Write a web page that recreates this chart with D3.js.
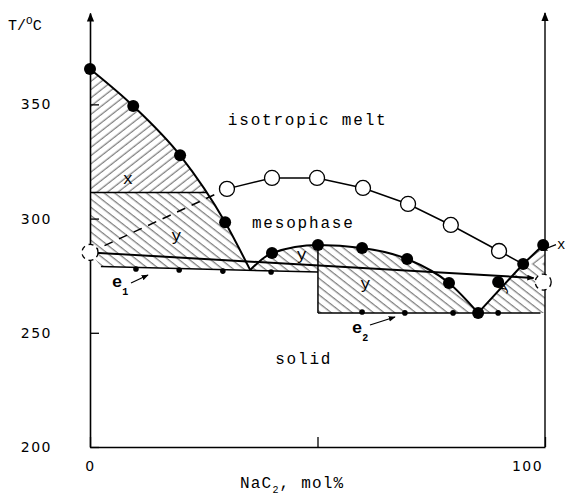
<!DOCTYPE html>
<html><head><meta charset="utf-8">
<script src="https://cdn.jsdelivr.net/npm/d3@7"></script>
<style>body{margin:0;background:#fff} svg{display:block}</style>
</head><body>
<svg id="c" width="568" height="496"></svg>
<script>
// ---- data (composition mol% NaC2, temperature °C) ----
const liquidusLeft   = [[0,365.5],[9.5,349.3],[19.8,327.7],[29.7,298.4],[35.2,277.5]];
const liquidusMiddle = [[35.2,277.5],[40,284.9],[50.1,288.4],[59.8,287.1],[69.7,282.3],[78.9,271.8],[85.3,258.7]];
const liquidusRight  = [[85.3,258.7],[95.2,280.1],[99.6,288.4]];
const extraPoints    = [[89.7,272.2]];
const clearing       = [[30.1,313],[40,317.8],[49.9,317.8],[60,313.4],[69.9,306.4],[79.3,297.2],[89.9,285.8],[95.2,280.1]];
const pureTransitions = [[0,285.2],[99.6,272.2]];
const transitionLine = [[0,285.2],[97.5,274]];
const eutectic1      = [[2.4,279],[50.1,276.6]];
const eutectic1Points = [[10.1,277.9],[19.6,277.5],[29.2,277],[39.8,276.6]];
const eutectic2      = [[50.1,258.7],[99,258.7]];
const eutectic2Points = [[59.8,259.1],[69.2,258.7],[79.8,258.7],[89.7,258.7]];
const boundaryT = 311.4;
const regionE = [[85.3,258.7],[95.2,280.1],[100,280.1],[100,258.7]];
const regionF = [[95.2,280.1],[99.6,288.4],[100,288.4],[100,280.1]];
const yTicks = [200,250,300,350];
const xTicks = [0,50,100];
const regionLabels = [
  {t:"x", p:[8.3,315]}, {t:"y", p:[19,290]}, {t:"y", p:[46.5,282]}, {t:"y", p:[60.5,269]}
];
const phaseLabels = [
  {t:"isotropic melt", p:[30.3,341]}, {t:"mesophase", p:[35.6,296]}, {t:"solid", p:[40.7,236.5]}
];

const svg = d3.select("#c");
const x = d3.scaleLinear().domain([0,100]).range([90,545]);
const y = d3.scaleLinear().domain([200,390]).range([447,13]);
const MONO = "'Liberation Mono','DejaVu Sans Mono',monospace";

const defs = svg.append("defs");
function hatch(id, ang){
  const p = defs.append("pattern").attr("id",id).attr("width",6.5).attr("height",6.5)
    .attr("patternUnits","userSpaceOnUse").attr("patternTransform",`rotate(${ang})`);
  p.append("line").attr("x1",3).attr("y1",0).attr("x2",3).attr("y2",6.5)
    .attr("stroke","#333").attr("stroke-width",0.8);
}
hatch("fw", 52); hatch("bw", -52);
const m = defs.append("marker").attr("id","arr").attr("viewBox","0 0 10 10").attr("refX",9).attr("refY",5)
  .attr("markerWidth",7).attr("markerHeight",7).attr("markerUnits","userSpaceOnUse").attr("orient","auto");
m.append("path").attr("d","M0,1L10,5L0,9Z").attr("fill","#000");
const m2 = defs.append("marker").attr("id","arrBig").attr("viewBox","0 0 10 10").attr("refX",9).attr("refY",5)
  .attr("markerWidth",9).attr("markerHeight",10).attr("markerUnits","userSpaceOnUse").attr("orient","auto");
m2.append("path").attr("d","M0,1L10,5L0,9Z").attr("fill","#000");
defs.append("clipPath").attr("id","above").append("rect")
  .attr("x",x(0)).attr("y",0).attr("width",x(100)-x(0)).attr("height",y(boundaryT));
defs.append("clipPath").attr("id","below").append("rect")
  .attr("x",x(0)).attr("y",y(boundaryT)).attr("width",x(100)-x(0)).attr("height",y(200)-y(boundaryT));

const curve = d3.line().x(d=>x(d[0])).y(d=>y(d[1])).curve(d3.curveMonotoneX);
const lin = d3.line().x(d=>x(d[0])).y(d=>y(d[1]));
const P = (a,b)=>`L${x(a)},${y(b)}`;
const e1At = xv => eutectic1[0][1] + (eutectic1[1][1]-eutectic1[0][1])*(xv-eutectic1[0][0])/(eutectic1[1][0]-eutectic1[0][0]);
const minX = liquidusLeft[liquidusLeft.length-1][0];

// ---- hatched regions ----
svg.append("path").attr("d", curve(liquidusLeft)+P(0,liquidusLeft[4][1])+"Z")
  .attr("fill","url(#fw)").attr("clip-path","url(#above)");
svg.append("path").attr("d", curve(liquidusLeft)+P(minX,e1At(minX))+P(eutectic1[0][0],eutectic1[0][1])+P(pureTransitions[0][0],pureTransitions[0][1])+"Z")
  .attr("fill","url(#bw)").attr("clip-path","url(#below)");
svg.append("path").attr("d", curve(liquidusMiddle)+P(eutectic2[0][0],eutectic2[0][1])+P(eutectic1[1][0],eutectic1[1][1])+P(minX,e1At(minX))+"Z")
  .attr("fill","url(#bw)");
svg.append("path").attr("d", lin(regionE)+"Z").attr("fill","url(#bw)");
svg.append("path").attr("d", lin(regionF)+"Z").attr("fill","url(#fw)");

// ---- axes ----
const ax = svg.append("g").attr("transform",`translate(${x(0)},0)`)
  .call(d3.axisLeft(y).tickValues(yTicks).tickSize(-9).tickSizeOuter(0).tickPadding(38).tickFormat(d3.format("d")));
ax.select(".domain").attr("stroke-width",1.6).attr("marker-end","url(#arrBig)");
ax.selectAll(".tick line").attr("stroke-width",1.3);
ax.selectAll("text").attr("font-family","'DejaVu Sans',sans-serif").attr("font-size",14)
  .attr("letter-spacing",1.5).attr("fill","#000");
const bx = svg.append("g").attr("transform",`translate(0,${y(200)})`)
  .call(d3.axisBottom(x).tickValues(xTicks).tickSize(-10).tickSizeOuter(0).tickPadding(14).tickFormat(d=>d===50?"":d));
bx.select(".domain").attr("stroke-width",1.4);
bx.selectAll(".tick line").attr("stroke-width",1.3);
bx.selectAll("text").attr("font-family","'DejaVu Sans',sans-serif").attr("font-size",14)
  .attr("letter-spacing",1.5).attr("fill","#000");
bx.selectAll(".tick").filter(d=>d===100).select("text").attr("dx",-18);
svg.append("line").attr("x1",x(100)).attr("x2",x(100)).attr("y1",y(200)).attr("y2",y(390))
  .attr("stroke","#000").attr("stroke-width",1.4).attr("marker-end","url(#arrBig)");

// ---- lines ----
const leftPath = svg.append("path").attr("d",curve(liquidusLeft)).attr("fill","none").attr("stroke","#000").attr("stroke-width",2);
const node = leftPath.node(), L = node.getTotalLength(); let xi = x(0);
for(let s=0;s<=L;s+=0.5){const pt=node.getPointAtLength(s); if(pt.y>=y(boundaryT)){xi=pt.x;break;}}
svg.append("line").attr("x1",x(0)).attr("x2",xi).attr("y1",y(boundaryT)).attr("y2",y(boundaryT))
  .attr("stroke","#000").attr("stroke-width",1.4);
svg.append("path").attr("d",curve(liquidusMiddle)).attr("fill","none").attr("stroke","#000").attr("stroke-width",2);
svg.append("path").attr("d",lin(liquidusRight)).attr("fill","none").attr("stroke","#000").attr("stroke-width",2);
svg.append("path").attr("d",lin(clearing)).attr("fill","none").attr("stroke","#000").attr("stroke-width",1.5);
svg.append("path").attr("d",lin([pureTransitions[0],clearing[0]])).attr("fill","none").attr("stroke","#000")
  .attr("stroke-width",1.5).attr("stroke-dasharray","9,7");
svg.append("path").attr("d",lin(transitionLine)).attr("fill","none").attr("stroke","#000").attr("stroke-width",2)
  .attr("marker-end","url(#arr)");
svg.append("path").attr("d",lin(eutectic1)).attr("fill","none").attr("stroke","#000").attr("stroke-width",1.5);
svg.append("path").attr("d",lin([[eutectic2[0][0],liquidusMiddle[2][1]],eutectic2[0]])).attr("fill","none").attr("stroke","#000").attr("stroke-width",1.5);
svg.append("path").attr("d",lin(eutectic2)).attr("fill","none").attr("stroke","#000").attr("stroke-width",1.5);

// ---- markers ----
const filled = [...liquidusLeft.slice(0,-1), ...liquidusMiddle.slice(1), ...liquidusRight.slice(1), ...extraPoints];
svg.selectAll("circle.f").data(filled).join("circle").attr("class","f")
  .attr("cx",d=>x(d[0])).attr("cy",d=>y(d[1])).attr("r",6).attr("fill","#000");
svg.selectAll("circle.o").data(clearing.slice(0,-1)).join("circle").attr("class","o")
  .attr("cx",d=>x(d[0])).attr("cy",d=>y(d[1])).attr("r",7.5).attr("fill","#fff").attr("stroke","#000").attr("stroke-width",1.3);
svg.selectAll("circle.d").data(pureTransitions).join("circle").attr("class","d")
  .attr("cx",d=>x(d[0])).attr("cy",d=>y(d[1])).attr("r",8).attr("fill","#fff").attr("stroke","#000")
  .attr("stroke-width",1.3).attr("stroke-dasharray","5,4");
svg.selectAll("circle.s").data([...eutectic1Points,...eutectic2Points]).join("circle").attr("class","s")
  .attr("cx",d=>x(d[0])).attr("cy",d=>y(d[1])).attr("r",2.8).attr("fill","#000");

// ---- texts ----
svg.selectAll("text.rl").data(regionLabels).join("text").attr("class","rl")
  .attr("x",d=>x(d.p[0])).attr("y",d=>y(d.p[1])).attr("text-anchor","middle")
  .attr("font-family",MONO).attr("font-size",17).text(d=>d.t);
svg.append("text").attr("transform",`translate(${x(91.5)},${y(269)}) rotate(-55)`).attr("text-anchor","middle")
  .attr("font-family",MONO).attr("font-size",15).text("y");
svg.append("text").attr("x",557).attr("y",y(286.5)).attr("font-family",MONO).attr("font-size",14).text("x");
svg.append("line").attr("x1",556).attr("y1",y(288.6)).attr("x2",541).attr("y2",y(286)).attr("stroke","#000")
  .attr("stroke-width",1.2).attr("marker-end","url(#arr)");
svg.selectAll("text.pl").data(phaseLabels).join("text").attr("class","pl")
  .attr("x",d=>x(d.p[0])).attr("y",d=>y(d.p[1]))
  .attr("font-family",MONO).attr("font-size",16).attr("letter-spacing",1.8).text(d=>d.t);

// eutectic labels
function eLabel(tx,ty,sub,ax1,ay1,ax2,ay2){
  const t = svg.append("text").attr("x",tx).attr("y",ty).attr("font-family",MONO).attr("font-size",17).attr("font-weight","bold");
  t.append("tspan").text("e");
  t.append("tspan").attr("dy",8).attr("font-size",10).text(sub);
  svg.append("line").attr("x1",ax1).attr("y1",ay1).attr("x2",ax2).attr("y2",ay2).attr("stroke","#000")
    .attr("stroke-width",1.3).attr("marker-end","url(#arr)");
}
eLabel(112,287,"1",131,283,148,275);
eLabel(352,333,"2",370,325,395,317);

// axis titles
const yt = svg.append("text").attr("x",8).attr("y",30).attr("font-family",MONO).attr("font-size",15);
yt.append("tspan").text("T/");
yt.append("tspan").attr("dy",-6).attr("font-size",11).text("O");
yt.append("tspan").attr("dy",6).text("C");
const xt = svg.append("text").attr("x",240).attr("y",488).attr("font-family",MONO).attr("font-size",16).attr("letter-spacing",1.2);
xt.append("tspan").text("NaC");
xt.append("tspan").attr("dy",5).attr("font-size",10).text("2");
xt.append("tspan").attr("dy",-5).text(", mol%");
</script>
</body></html>
